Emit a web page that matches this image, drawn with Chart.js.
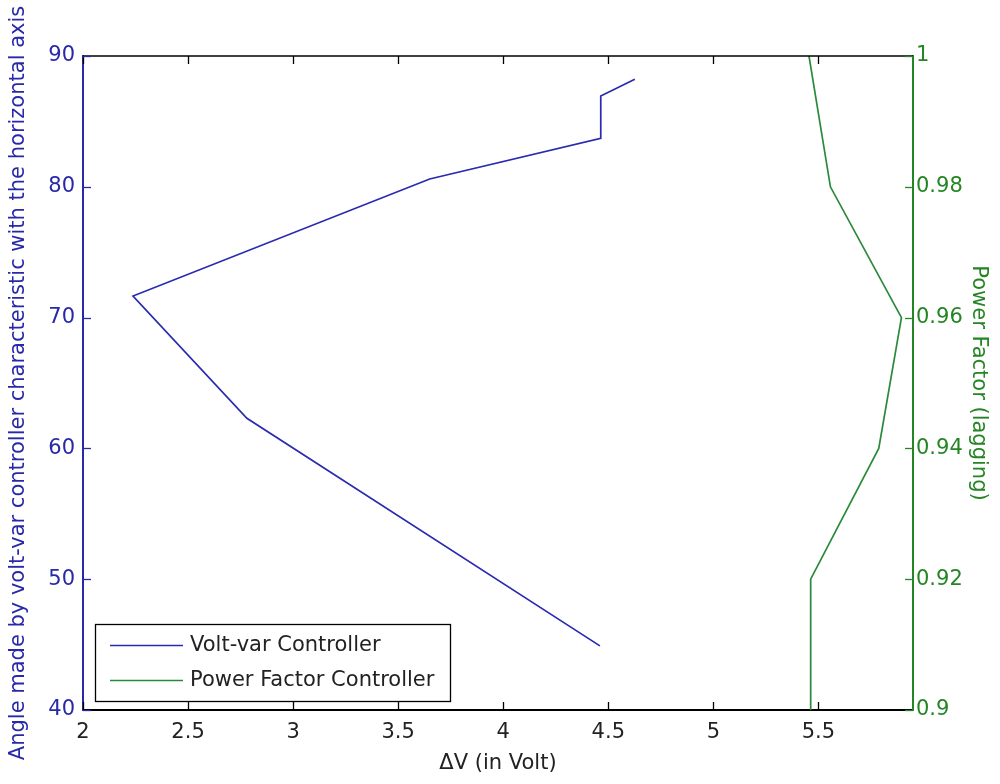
<!DOCTYPE html>
<html><head><meta charset="utf-8">
<script src="https://cdn.jsdelivr.net/npm/chart.js@4.4.0/dist/chart.umd.min.js"></script>
<style>html,body{margin:0;padding:0;background:#fff}#wrap{width:1000px;height:784px;position:relative}</style>
</head><body><div id="wrap"><canvas id="c"></canvas></div>
<script>
// ---- data ----
const voltVarDV    = [4.626, 4.464, 4.464, 3.65, 2.238, 2.78, 4.46];
const voltVarAngle = [88.22, 86.94, 83.71, 80.6, 71.65, 62.3, 44.9];
const pfDV    = [5.463, 5.463, 5.787, 5.895, 5.557, 5.455];
const pfValue = [0.90, 0.92, 0.94, 0.96, 0.98, 1.00];
const xTicks     = [2, 2.5, 3, 3.5, 4, 4.5, 5, 5.5];
const leftTicks  = [40, 50, 60, 70, 80, 90];
const rightTicks = [0.9, 0.92, 0.94, 0.96, 0.98, 1];
const seriesNames = ['Volt-var Controller', 'Power Factor Controller'];
const xTitle = '\u0394V (in Volt)';
const leftTitle = 'Angle made by volt-var controller characteristic with the horizontal axis';
const rightTitle = 'Power Factor (lagging)';

const BLUE = '#2828a8', BLUE_LINE = '#2a2ab0';
const GREEN = '#258525', GREEN_LINE = '#2a8a3a';
const FONT = 'DejaVu Sans';

const toPts = (xs, ys) => xs.map((x, i) => ({x, y: ys[i]}));

const inwardTicks = {
  id: 'inwardTicks',
  afterDraw(chart) {
    const {ctx, chartArea: a} = chart;
    const x = chart.scales.x, yl = chart.scales.y, yr = chart.scales.y2;
    const L = 8;
    ctx.save();
    ctx.strokeStyle = '#000'; ctx.lineWidth = 1.5;
    ctx.beginPath(); ctx.moveTo(a.left, a.top); ctx.lineTo(a.right, a.top); ctx.stroke();
    ctx.lineWidth = 1.3;
    xTicks.forEach(v => {
      const px = Math.round(x.getPixelForValue(v)) + 0.5;
      ctx.beginPath();
      ctx.moveTo(px, a.bottom); ctx.lineTo(px, a.bottom - L);
      ctx.moveTo(px, a.top); ctx.lineTo(px, a.top + L);
      ctx.stroke();
    });
    ctx.strokeStyle = BLUE;
    leftTicks.forEach(v => {
      const py = Math.round(yl.getPixelForValue(v)) + 0.5;
      ctx.beginPath(); ctx.moveTo(a.left, py); ctx.lineTo(a.left + L, py); ctx.stroke();
    });
    ctx.strokeStyle = GREEN;
    rightTicks.forEach(v => {
      const py = Math.round(yr.getPixelForValue(v)) + 0.5;
      ctx.beginPath(); ctx.moveTo(a.right, py); ctx.lineTo(a.right - L, py); ctx.stroke();
    });
    // legend box
    const bx = 95, by = 624, bw = 355, bh = 77;
    ctx.fillStyle = '#fff';
    ctx.fillRect(bx, by, bw, bh);
    ctx.strokeStyle = '#000'; ctx.lineWidth = 1.3;
    ctx.strokeRect(bx + 0.5, by + 0.5, bw, bh);
    const rows = [[seriesNames[0], BLUE_LINE, by + 21], [seriesNames[1], GREEN_LINE, by + 56]];
    ctx.font = '21px "' + FONT + '"';
    ctx.textBaseline = 'middle';
    rows.forEach(([t, c, ry]) => {
      ctx.strokeStyle = c; ctx.lineWidth = 1.5;
      ctx.beginPath(); ctx.moveTo(110, ry + 0.5); ctx.lineTo(183, ry + 0.5); ctx.stroke();
      ctx.fillStyle = '#222';
      ctx.fillText(t, 190, ry + 1);
    });
    ctx.restore();
  }
};

new Chart(document.getElementById('c'), {
  type: 'line',
  data: {
    datasets: [
      { label: seriesNames[0], data: toPts(voltVarDV, voltVarAngle), yAxisID: 'y',
        borderColor: BLUE_LINE, borderWidth: 1.7, pointRadius: 0, tension: 0, fill: false },
      { label: seriesNames[1], data: toPts(pfDV, pfValue), yAxisID: 'y2',
        borderColor: GREEN_LINE, borderWidth: 1.7, pointRadius: 0, tension: 0, fill: false }
    ]
  },
  options: {
    responsive: true, maintainAspectRatio: false, animation: false,
    layout: { padding: { top: 56, left: 0, right: 0, bottom: 0 } },
    plugins: { legend: { display: false }, tooltip: { enabled: false } },
    scales: {
      x: {
        type: 'linear', min: 2, max: 5.95,
        afterBuildTicks: s => { s.ticks = xTicks.map(v => ({value: v})); },
        afterFit: s => { s.height = 74; },
        grid: { display: false, drawTicks: false },
        border: { display: true, color: '#000', width: 2 },
        ticks: { color: '#222', padding: 10, font: { family: FONT, size: 21 }, maxRotation: 0,
                 callback: v => String(v) },
        title: { display: true, text: xTitle, color: '#222', font: { family: FONT, size: 21 },
                 padding: { top: 0, bottom: 8 } }
      },
      y: {
        type: 'linear', position: 'left', min: 40, max: 90,
        afterBuildTicks: s => { s.ticks = leftTicks.map(v => ({value: v})); },
        afterFit: s => { s.width = 83; },
        grid: { display: false, drawTicks: false },
        border: { display: true, color: BLUE, width: 2 },
        ticks: { color: BLUE, padding: 8, font: { family: FONT, size: 21 }, callback: v => String(v) },
        title: { display: true, text: leftTitle, color: BLUE, font: { family: FONT, size: 21 },
                 padding: { top: 6, bottom: 0 } }
      },
      y2: {
        type: 'linear', position: 'right', min: 0.9, max: 1.0,
        afterBuildTicks: s => { s.ticks = rightTicks.map(v => ({value: v})); },
        afterFit: s => { s.width = 87; },
        grid: { display: false, drawTicks: false },
        border: { display: true, color: GREEN, width: 2 },
        ticks: { color: GREEN, padding: 3, font: { family: FONT, size: 21 },
                 callback: v => String(Math.round(v * 100) / 100) },
        title: { display: true, text: rightTitle, color: GREEN, font: { family: FONT, size: 21 },
                 padding: { top: 9, bottom: 0 } }
      }
    }
  },
  plugins: [inwardTicks]
});
</script>
</body></html>
